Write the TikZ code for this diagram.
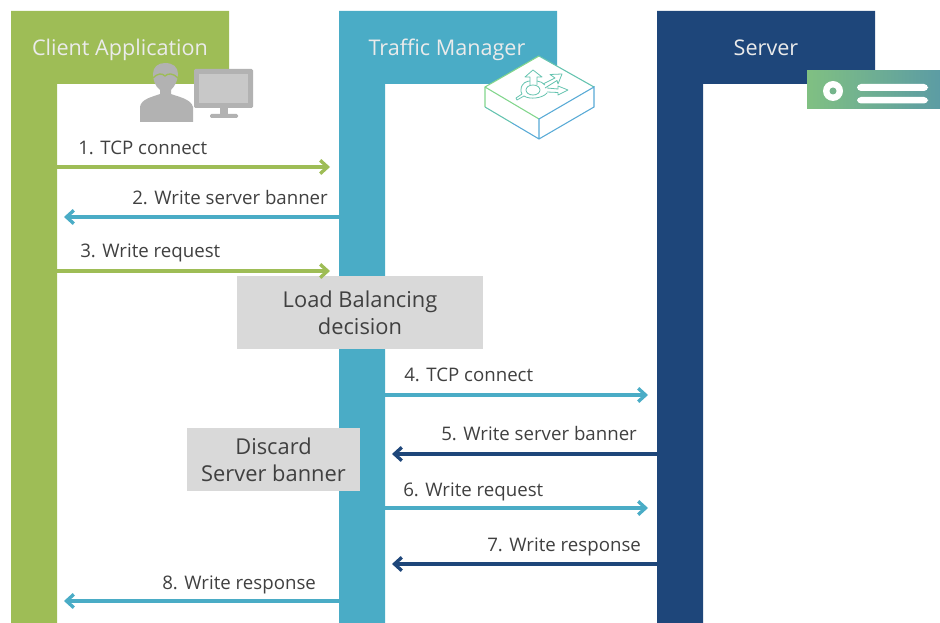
\documentclass[tikz,border=0pt]{standalone}
\usepackage{xcolor}
\usepackage{fontspec}
\setmainfont{Open Sans}
\usetikzlibrary{arrows.meta}
\definecolor{clientgreen}{RGB}{158,189,86}
\definecolor{trafficblue}{RGB}{74,172,198}
\definecolor{servernavy}{RGB}{30,70,122}
\definecolor{boxgray}{RGB}{217,217,217}
\definecolor{labelgray}{RGB}{64,64,64}
\definecolor{icongray}{RGB}{178,178,178}
\definecolor{iconinner}{RGB}{200,200,200}
\definecolor{switchgreen}{RGB}{130,214,140}
\definecolor{switchblue}{RGB}{88,170,214}
\definecolor{switchteal}{RGB}{100,195,175}
\definecolor{serverleft}{RGB}{128,192,130}
\definecolor{serverright}{RGB}{92,156,164}

\begin{document}
\begin{tikzpicture}[
    x=0.75pt, y=-0.75pt,
    lanetitle/.style={text=white!92!black, font=\fontsize{16.2}{20}\selectfont, anchor=base},
    msg/.style={text=labelgray, font=\fontsize{14}{18}\selectfont, anchor=base west, inner sep=0pt},
    note/.style={fill=boxgray, text=labelgray, font=\fontsize{16.4}{20.5}\selectfont, align=center, inner sep=0pt},
    arrow/.style={line width=2.5pt, -{Straight Barb[length=5.5pt,width=10pt,line width=2.5pt]}}
]
\useasboundingbox (0,0) rectangle (940,623);

% lanes
\fill[clientgreen] (11,11) -| (229,84) -| (57,623) -- (11,623) -- cycle;
\fill[trafficblue] (339,11) -| (557,84) -| (385,623) -- (339,623) -- cycle;
\fill[servernavy] (657,11) -| (875,84) -| (703,623) -- (657,623) -- cycle;
\node[lanetitle] (client) at (120,56) {Client Application};
\node[lanetitle] (traffic) at (447,56) {Traffic Manager};
\node[lanetitle] (server) at (766,56) {Server};

% person and monitor
\fill[icongray] (140,122) -- (140,107) .. controls (141,99) and (152,97) .. (160,94) -- (160,90)
    .. controls (155,86) and (153,80) .. (153,74) .. controls (153,67) and (158,63) .. (165,63)
    .. controls (173,63) and (178,67) .. (178,74) .. controls (178,80) and (175,86) .. (171,90)
    -- (171,94) .. controls (179,97) and (191,99) .. (193,107) -- (193,122) -- cycle;
\draw[clientgreen, line width=1pt] (153,78) .. controls (158,73) and (162,73) .. (165,76) .. controls (168,73) and (173,73) .. (178,78);
\fill[icongray, rounded corners=1pt] (194,69) rectangle (253,108);
\fill[iconinner] (199,74) rectangle (248,103);
\fill[icongray] (220,108) rectangle (228,115);
\fill[icongray, rounded corners=1pt] (210,114) rectangle (238,118);

% switch
\fill[white] (539,56) -- (594,87) -- (594,107) -- (539,139) -- (485,107) -- (485,87) -- cycle;
\draw[switchgreen, line width=0.8pt] (539,56) -- (485,87) -- (485,107);
\draw[switchgreen, line width=0.8pt] (485,87) -- (539,119);
\draw[switchteal, line width=0.8pt] (539,56) -- (594,87);
\draw[switchteal, line width=0.8pt] (485,107) -- (512,123);
\draw[switchblue, line width=0.8pt] (512,123) -- (539,139) -- (594,107) -- (594,87) -- (539,119) -- (539,139);
\begin{scope}[switchteal, line width=0.6pt, line join=round]
\draw (533,90) ellipse (7 and 5);
\draw (530,85) -- (530,77) -- (525,77) -- (533,70) -- (542,77) -- (537,77) -- (537,85);
\draw (543,84) -- (555,78) -- (550,74.5) -- (562,74) -- (558,84) -- (557,80.5) -- (545,88);
\draw (547,88) -- (558,89) -- (558,86) -- (568,90) -- (558,95) -- (558,92.5) -- (547,92);
\draw (521,90) .. controls (521,83) and (527,81) .. (530,81) (537,81) .. controls (540,81) and (543,83) .. (545,85);
\draw (547,93) .. controls (543,98) and (530,100) .. (524,96) -- (517,100) -- (516,98) -- (522,94) .. controls (521,93) and (521,91) .. (521,90);
\end{scope}

% server icon
\shade[left color=serverleft, right color=serverright] (807,71) rectangle (940,109);
\fill[white] (833,91) circle (10);
\fill[serverleft!70!serverright] (833,91) circle (3.5);
\fill[white, rounded corners=3pt] (857,84) rectangle (928,91);
\fill[white, rounded corners=3pt] (857,97) rectangle (928,103.5);

% notes
\node[note, minimum width=184.5pt, minimum height=54.75pt] (balance) at (360,312.5) {Load Balancing\\decision};
\node[note, minimum width=129.75pt, minimum height=47.25pt] (discard) at (273.5,459.5) {Discard\\Server banner};

% end points on the lanes
\coordinate (c1) at (57,167); \coordinate (t1) at (330,167);
\coordinate (t2) at (339,217); \coordinate (c2) at (64,217);
\coordinate (c3) at (57,271); \coordinate (t3) at (330,271);
\coordinate (t4) at (385,395); \coordinate (s4) at (648,395);
\coordinate (s5) at (657,454); \coordinate (t5) at (392,454);
\coordinate (t6) at (385,508); \coordinate (s6) at (648,508);
\coordinate (s7) at (657,564); \coordinate (t7) at (392,564);
\coordinate (t8) at (339,601); \coordinate (c8) at (64,601);

\draw[arrow, clientgreen] (c1) -- (t1);
\draw[arrow, trafficblue] (t2) -- (c2);
\draw[arrow, clientgreen] (c3) -- (t3);
\draw[arrow, trafficblue] (t4) -- (s4);
\draw[arrow, servernavy] (s5) -- (t5);
\draw[arrow, trafficblue] (t6) -- (s6);
\draw[arrow, servernavy] (s7) -- (t7);
\draw[arrow, trafficblue] (t8) -- (c8);

\node[msg] (m1) at (78,155) {1. TCP connect};
\node[msg] (m2) at (132,205) {2. Write server banner};
\node[msg] (m3) at (80,258) {3. Write request};
\node[msg] (m4) at (404,382) {4. TCP connect};
\node[msg] (m5) at (441,441) {5. Write server banner};
\node[msg] (m6) at (403,497) {6. Write request};
\node[msg] (m7) at (487,552) {7. Write response};
\node[msg] (m8) at (162,590) {8. Write response};

\end{tikzpicture}
\end{document}
